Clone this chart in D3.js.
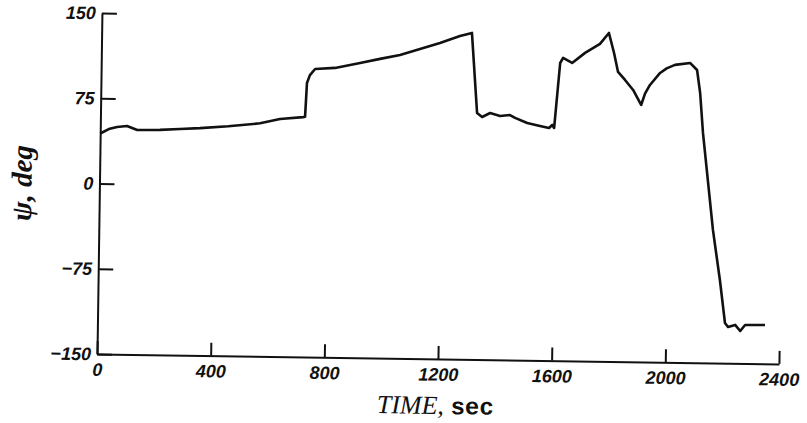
<!DOCTYPE html>
<html>
<head>
<meta charset="utf-8">
<script src="https://cdn.jsdelivr.net/npm/d3@7"></script>
<style>
  body { margin: 0; background: white; }
  .tick text { font-family: "Liberation Sans", Arial, sans-serif; font-weight: bold; font-style: italic; font-size: 18px; fill: #111; }
</style>
</head>
<body>
<div id="chart"></div>
<script>
// heading angle psi against time
var timeSec = [0, 30, 59, 94, 130, 210, 280, 351, 450, 562, 632, 713, 720, 725, 735, 753, 823, 911, 981, 1051, 1121, 1191, 1261, 1303,
  1325, 1343, 1371, 1406, 1441, 1459, 1502, 1547, 1579, 1590, 1597, 1615, 1625, 1657, 1702, 1754, 1785, 1804, 1819, 1844, 1873, 1902,
  1915, 1932, 1967, 1990, 2019, 2072, 2097, 2109, 2121, 2161, 2188, 2208, 2219, 2244, 2262, 2279, 2349];
var psiDeg = [44, 48, 50, 51, 47.6, 48, 49, 50, 52, 55, 59, 61, 61.3, 91, 98, 103.5, 104.7, 109.4, 113.2, 116.9, 122.5, 128, 134.4, 137.2,
  66.9, 63.4, 67, 64.5, 65.5, 63, 58.7, 56.2, 54.6, 57.3, 54.7, 111.9, 116.4, 112.1, 121.1, 129.2, 138.9, 121.4, 104.8, 97.8, 89.1, 76,
  86, 93.7, 104.4, 108.5, 111.7, 113.6, 107.5, 87.3, 52.2, -33, -77, -114.7, -118.2, -116.3, -121.6, -116.2, -116];
var xTicks = [0, 400, 800, 1200, 1600, 2000, 2400];
var yTicks = [-150, -75, 0, 75, 150];

var W = 807, H = 423;
var plotL = 97, plotR = 779, plotT = 13, plotB = 354;

var svg = d3.select("#chart").append("svg")
  .attr("width", W)
  .attr("height", H);

// the scan is slightly tilted, so the whole frame is turned a little
var g = svg.append("g")
  .attr("transform", "rotate(0.83," + plotL + "," + plotB + ")");

var x = d3.scaleLinear().domain([0, 2400]).range([plotL, plotR]);
var y = d3.scaleLinear().domain([-150, 150]).range([plotB, plotT]);

var yAxis = g.append("g")
  .attr("transform", "translate(" + plotL + ",0)")
  .call(d3.axisLeft(y).tickValues(yTicks).tickSize(-15).tickSizeOuter(0).tickPadding(6)
    .tickFormat(function(d){ return d < 0 ? "\u2212" + Math.abs(d) : String(d); }));

var xAxis = g.append("g")
  .attr("transform", "translate(0," + plotB + ")")
  .call(d3.axisBottom(x).tickValues(xTicks).tickSize(-13).tickSizeOuter(0).tickPadding(9)
    .tickFormat(function(d){ return String(d); }));

g.selectAll(".domain, .tick line").attr("stroke", "#111").attr("stroke-width", 2);

var line = d3.line()
  .x(function(d, i){ return x(timeSec[i]); })
  .y(function(d){ return y(d); });

g.append("path")
  .datum(psiDeg)
  .attr("d", line)
  .attr("fill", "none")
  .attr("stroke", "#111")
  .attr("stroke-width", 2.6)
  .attr("stroke-linejoin", "round");

// axis titles
var xt = g.append("text")
  .attr("x", 436)
  .attr("y", 409)
  .attr("text-anchor", "middle")
  .style("fill", "#111");
xt.append("tspan")
  .style("font-family", "Liberation Serif, serif")
  .style("font-style", "italic")
  .style("font-size", "26px")
  .text("TIME, ");
xt.append("tspan")
  .style("font-family", "Liberation Mono, monospace")
  .style("font-weight", "bold")
  .style("font-size", "24px")
  .text("sec");

g.append("text")
  .attr("transform", "translate(29,184) rotate(-90)")
  .attr("text-anchor", "middle")
  .style("font-family", "Liberation Serif, serif")
  .style("font-style", "italic")
  .style("font-weight", "bold")
  .style("font-size", "29px")
  .style("fill", "#111")
  .text("\u03C8, deg");
</script>
</body>
</html>
